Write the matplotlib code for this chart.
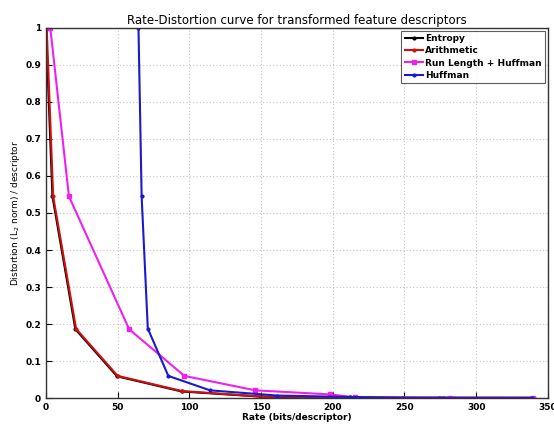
import matplotlib
matplotlib.use('Agg')
import matplotlib.pyplot as plt
from matplotlib.ticker import MultipleLocator

# values
entropy_rate = [0, 4.5, 20.5, 49.5, 94.5, 150, 210, 274, 338]
entropy_dist = [1.0, 0.545, 0.186, 0.059, 0.018, 0.004, 0.001, 0.0005, 0.0003]

arith_rate = [0.5, 5, 21, 50, 95, 151, 212, 275, 340]
arith_dist = [1.0, 0.545, 0.187, 0.06, 0.019, 0.004, 0.002, 0.001, 0.001]

rlh_rate = [3, 16, 58, 96.5, 146, 198, 215.5, 281.5, 339.5]
rlh_dist = [1.0, 0.545, 0.186, 0.06, 0.021, 0.01, 0.002, 0.001, 0.001]

huff_rate = [64.5, 66.7, 71, 85.3, 114.4, 161, 212, 248, 277, 339]
huff_dist = [1.0, 0.545, 0.188, 0.06, 0.021, 0.007, 0.003, 0.001, 0.0008, 0.0006]

fig = plt.figure(figsize=(5.54, 4.29), dpi=100)
ax = fig.add_axes([0.083, 0.072, 0.906, 0.863])

ax.plot(entropy_rate, entropy_dist, color='black', marker='.', ms=4, lw=1.5, label='Entropy')
ax.plot(arith_rate, arith_dist, color='#d01010', marker='.', ms=4, lw=1.5, label='Arithmetic')
ax.plot(rlh_rate, rlh_dist, color='#ee20ee', marker='s', ms=3, lw=1.5, label='Run Length + Huffman')
ax.plot(huff_rate, huff_dist, color='#1a1acc', marker='.', ms=4, lw=1.5, label='Huffman')

ax.set_xlim(0, 350)
ax.set_ylim(0, 1)
ax.xaxis.set_major_locator(MultipleLocator(50))
ax.set_yticks([0, 0.1, 0.2, 0.3, 0.4, 0.5, 0.6, 0.7, 0.8, 0.9, 1])
ax.set_yticklabels(['0', '0.1', '0.2', '0.3', '0.4', '0.5', '0.6', '0.7', '0.8', '0.9', '1'])
ax.tick_params(direction='in', labelsize=6.5, length=4, width=0.8)
for lab in ax.get_xticklabels() + ax.get_yticklabels():
    lab.set_fontweight('bold')
ax.grid(True, linestyle=(0, (1, 2)), color='#c4c4c4', linewidth=0.8)
for s in ax.spines.values():
    s.set_linewidth(1.0)
    s.set_color('#333333')

ax.set_title('Rate-Distortion curve for transformed feature descriptors', fontsize=8.5, pad=3)
ax.set_xlabel('Rate (bits/descriptor)', fontsize=6.5, fontweight='bold', labelpad=1)
ax.set_ylabel('Distortion (L$_2$ norm) / descriptor', fontsize=6.5, labelpad=2)

leg = ax.legend(loc='upper right', prop={'weight': 'bold', 'size': 6.5},
                fancybox=False, edgecolor='#333333', borderpad=0.4, labelspacing=0.35,
                handlelength=2.0, handletextpad=0.2, borderaxespad=0.3)
leg.get_frame().set_linewidth(0.8)

fig.savefig('out.png', dpi=100)
